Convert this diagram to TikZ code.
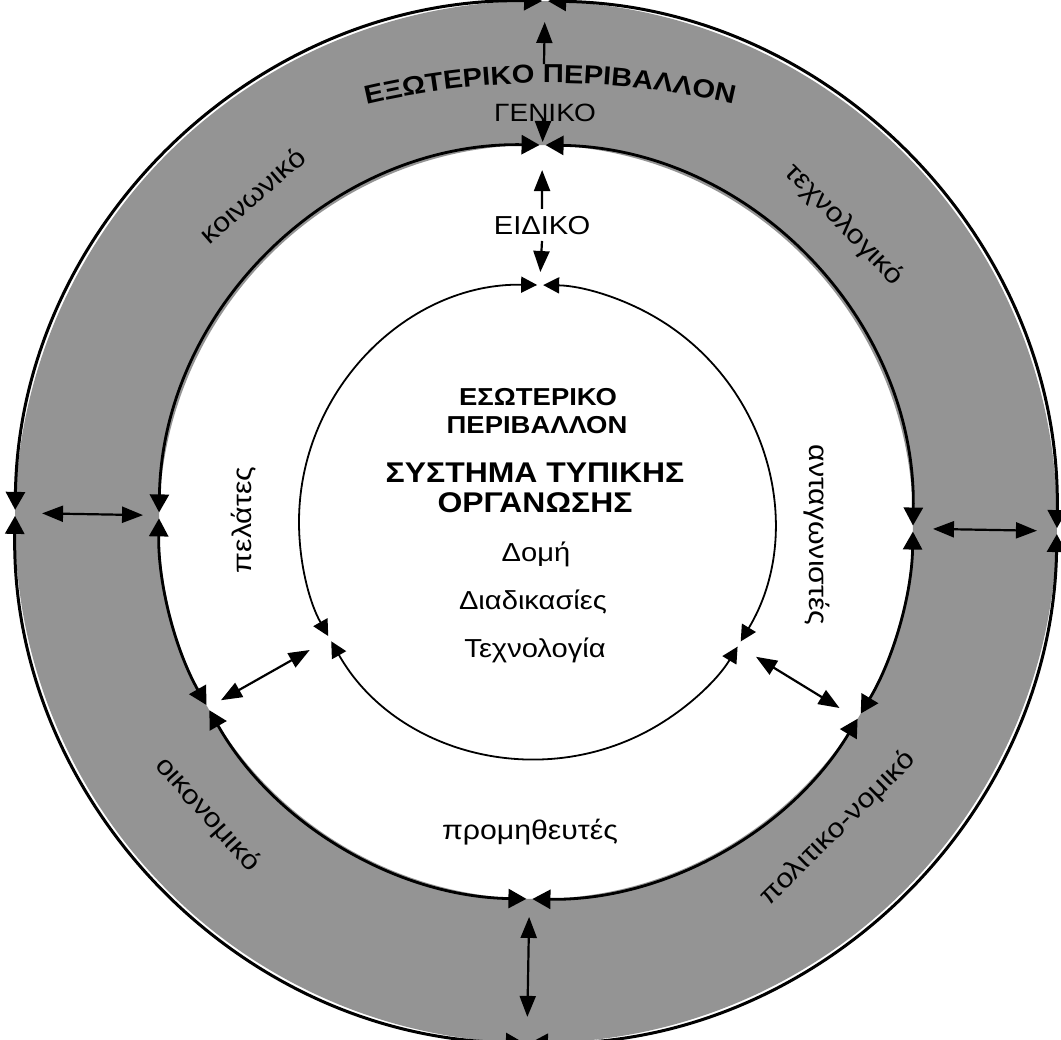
\documentclass[tikz,border=0pt]{standalone}
\usepackage{fontspec}
\setmainfont{Liberation Sans}[FakeStretch=1.12]
\usetikzlibrary{arrows.meta,decorations.text}
\definecolor{ringgray}{gray}{0.58}
\begin{document}
\begin{tikzpicture}[x=1pt,y=1pt,
  ctip/.tip={Triangle[length=18pt,width=19pt]},
  itip/.tip={Triangle[length=16pt,width=16pt]},
  dtip/.tip={Triangle[length=21pt,width=16pt]},
  outerarc/.style={line width=3pt, ctip-ctip, shorten <=3pt, shorten >=3pt},
  midarc/.style={line width=2.8pt, ctip-ctip, shorten <=3pt, shorten >=3pt},
  innerarc/.style={line width=1.8pt, itip-itip, shorten <=3pt, shorten >=3pt},
  dbl/.style={line width=2.2pt, dtip-dtip},
  sgl/.style={line width=2.2pt, -dtip},
  lbl/.style={font=\fontsize{27}{30}\selectfont, inner sep=0pt},
  txt/.style={font=\fontsize{26}{30}\selectfont, inner sep=0pt, anchor=base},
  headA/.style={font=\bfseries\fontsize{24.5}{28}\selectfont, inner sep=0pt, anchor=base},
  headB/.style={font=\bfseries\fontsize{28.5}{32}\selectfont, inner sep=0pt, anchor=base}]
\useasboundingbox (0,0) rectangle (1061,1040);
\fill[white] (0,0) rectangle (1061,1040);
\coordinate (C) at (536,518);

% grey ring
\fill[ringgray, even odd rule] (C) circle[radius=521pt] (C) circle[radius=377pt];

% circles made of arcs with arrowheads at meeting points
\foreach \a/\b in {-1/89, 89/179, 179/269, 269/359}
  \draw[outerarc] ([shift={(C)}]\a:521pt) arc[start angle=\a, end angle=\b, radius=521pt];
\foreach \a/\b in {-1/89, 89/179, 179/209.5, 209.5/269, 269/329, 329/359}
  \draw[midarc] ([shift={(C)}]\a:377pt) arc[start angle=\a, end angle=\b, radius=377pt];
\foreach \a/\b in {89/209.5, 209.5/329, 329/449}
  \draw[innerarc] ([shift={(C)}]\a:237pt) arc[start angle=\a, end angle=\b, radius=237pt];

% connector end points
\coordinate (Ttop) at ([shift={(C)}]89:500pt);
\coordinate (Ttail) at ([shift={(C)}]89:458pt);
\coordinate (Btail) at ([shift={(C)}]89:403pt);
\coordinate (Bhead) at ([shift={(C)}]89:380pt);
\coordinate (Eup) at ([shift={(C)}]89:352pt);
\coordinate (Edown) at ([shift={(C)}]89:250pt);
\coordinate (L1) at ([shift={(C)}]179:494pt);
\coordinate (L2) at ([shift={(C)}]179:393pt);
\coordinate (R1) at ([shift={(C)}]-1:397pt);
\coordinate (R2) at ([shift={(C)}]-1:501pt);
\coordinate (D1) at ([shift={(C)}]269:395pt);
\coordinate (D2) at ([shift={(C)}]269:495pt);
\coordinate (LL1) at ([shift={(C)}]209.5:260pt);
\coordinate (LL2) at ([shift={(C)}]209.5:362pt);
\coordinate (LR1) at ([shift={(C)}]328.5:258pt);
\coordinate (LR2) at ([shift={(C)}]328.5:356pt);

% double arrows
\draw[sgl] (Ttail) -- (Ttop);
\draw[sgl] (Btail) -- (Bhead);
\draw[dbl] (L1) -- (L2);
\draw[dbl] (R1) -- (R2);
\draw[dbl] (D1) -- (D2);
\draw[dbl] (LL1) -- (LL2);
\draw[dbl] (LR1) -- (LR2);

% top arc title
\path[decorate, decoration={text along path, text align=center,
  text={|\bfseries\fontsize{26}{30}\selectfont|ΕΞΩΤΕΡΙΚΟ ΠΕΡΙΒΑΛΛΟΝ}}]
  ([shift={(550,157)}]105:800pt) arc[start angle=105, end angle=75, radius=800pt];
\node[txt, font=\fontsize{25}{28}\selectfont] (geniko) at (545,918) {ΓΕΝΙΚΟ};

% ΕΙΔΙΚΟ
\node[txt] (eidiko) at (542,805) {ΕΙΔΙΚΟ};
\draw[sgl] ([yshift=26pt]eidiko.base) -- (Eup);
\draw[sgl] ([yshift=-6pt]eidiko.base) -- (Edown);

% ring labels
\node[lbl, rotate=41] (koin) at ([shift={(C)}]131:433pt) {κοινωνικό};
\node[lbl, rotate=-46] (tech) at ([shift={(C)}]44:428pt) {τεχνολογικό};
\node[lbl, rotate=-48.3] (oik) at ([shift={(C)}]221.7:440pt) {οικονομικό};
\node[lbl, rotate=44.6] (pol) at ([shift={(C)}]314.6:430pt) {πολιτικο-νομικό};

% labels in white ring
\node[lbl, rotate=90] (pel) at (244,520) {πελάτες};
\node[lbl, rotate=-90] (ant) at (817,505) {ανταγωνιστές};
\node[txt, font=\fontsize{27}{30}\selectfont] (prom) at (530,200) {προμηθευτές};

% inner circle text
\node[headA] (h1) at (538,634) {ΕΣΩΤΕΡΙΚΟ};
\node[headA] (h2) at (537,606) {ΠΕΡΙΒΑΛΛΟΝ};
\node[headB] (h3) at (535,557) {ΣΥΣΤΗΜΑ ΤΥΠΙΚΗΣ};
\node[headB] (h4) at (535,527) {ΟΡΓΑΝΩΣΗΣ};
\node[txt] (d1) at (536,478) {Δομή};
\node[txt] (d2) at (533,430) {Διαδικασίες};
\node[txt] (d3) at (535,382) {Τεχνολογία};
\end{tikzpicture}
\end{document}
